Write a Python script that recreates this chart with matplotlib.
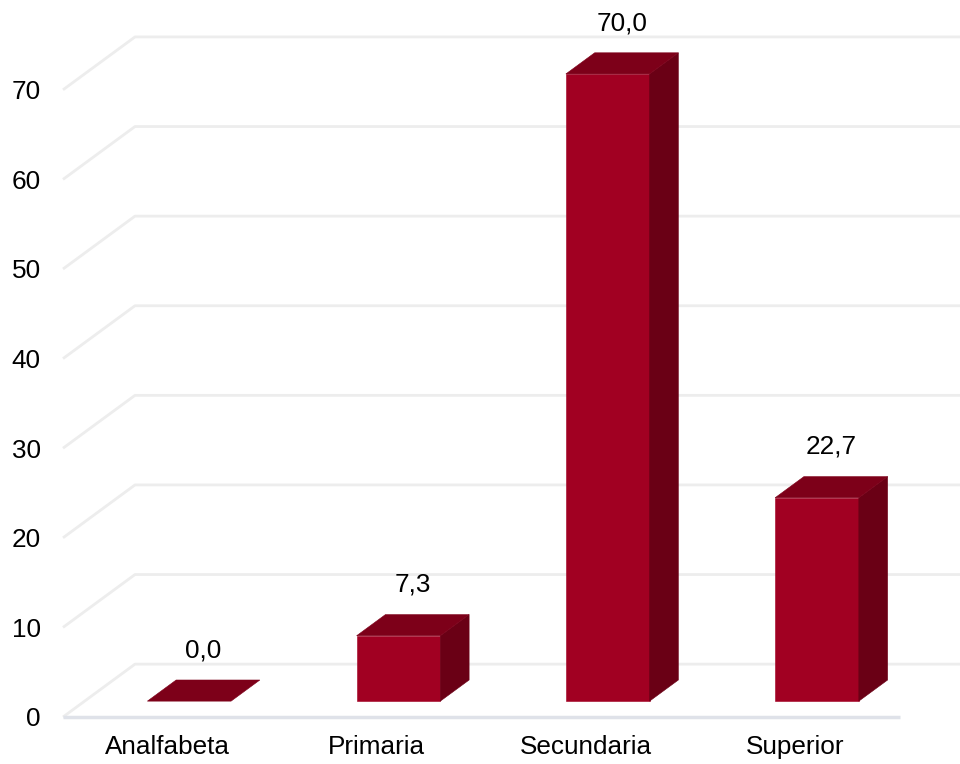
import matplotlib
matplotlib.use("Agg")
import matplotlib.pyplot as plt
from matplotlib.patches import Polygon

# Data
categories = ["Analfabeta", "Primaria", "Secundaria", "Superior"]
values = [0.0, 7.3, 70.0, 22.7]
y_ticks = [0, 10, 20, 30, 40, 50, 60, 70]

plt.rcParams["font.family"] = ["Liberation Sans", "DejaVu Sans"]

# Pseudo-3D geometry (in data units)
DX = 0.344      # horizontal shift from front plane to back wall (categories)
DY = 5.9        # vertical shift from front plane to back wall (value units)
F_FRONT = 0.30  # depth fraction of a bar's front face
F_BACK = 0.70   # depth fraction of a bar's back face
BAR_W = 0.40

C_FRONT = "#A10022"
C_TOP = "#7D0019"
C_SIDE = "#6A0015"
GRID = "#EDEDED"
FLOOR = "#DFE2E9"

W, H, DPI = 960, 764, 100
fig = plt.figure(figsize=(W / DPI, H / DPI), dpi=DPI)
fig.patch.set_facecolor("white")

px_per_unit = 8.96
y_top = 80
left_px, right_px, zero_px = 63, 900, 717
ax = fig.add_axes([left_px / W, (H - zero_px) / H,
                   (right_px - left_px) / W, y_top * px_per_unit / H])
ax.set_xlim(-0.5, len(categories) - 0.5)
ax.set_ylim(0, y_top)
ax.set_facecolor("none")
for s in ax.spines.values():
    s.set_visible(False)

x0 = -0.5
x1 = len(categories) - 0.5
far = x1 + 1.0

# Walls: side-wall diagonals and back-wall horizontals
for v in y_ticks:
    ax.plot([x0, x0 + DX, far], [v, v + DY, v + DY], color=GRID, lw=2,
            clip_on=False, zorder=1, solid_capstyle="butt")
# Front edge of the floor
ax.plot([x0, x1], [0, 0], color=FLOOR, lw=2.5, clip_on=False, zorder=1,
        solid_capstyle="butt")


def face(pts, color):
    ax.add_patch(Polygon(pts, closed=True, facecolor=color, edgecolor=color,
                         lw=0.4, zorder=3, clip_on=False))


# Bars
for i, v in enumerate(values):
    xl = i + F_FRONT * DX - BAR_W / 2
    xr = xl + BAR_W
    yb = F_FRONT * DY
    yt = v + yb
    ddx = (F_BACK - F_FRONT) * DX
    ddy = (F_BACK - F_FRONT) * DY
    if v > 0:
        face([(xl, yb), (xr, yb), (xr, yt), (xl, yt)], C_FRONT)
        face([(xr, yb), (xr + ddx, yb + ddy), (xr + ddx, yt + ddy), (xr, yt)],
             C_SIDE)
    face([(xl, yt), (xr, yt), (xr + ddx, yt + ddy), (xl + ddx, yt + ddy)],
         C_TOP)
    label = f"{v:.1f}".replace(".", ",")
    ax.text(i + 0.5 * DX, v + 0.5 * DY + 4.5, label, ha="center",
            va="center", fontsize=18.8, color="#000000", zorder=4)

ax.set_yticks(y_ticks)
ax.set_yticklabels([str(t) for t in y_ticks])
ax.set_xticks(range(len(categories)))
ax.set_xticklabels(categories)
ax.tick_params(axis="y", length=0, pad=16, labelsize=18.8, labelcolor="#000000")
ax.tick_params(axis="x", length=0, pad=13, labelsize=18.8, labelcolor="#000000")

fig.savefig("out.png", dpi=DPI, facecolor="white")
